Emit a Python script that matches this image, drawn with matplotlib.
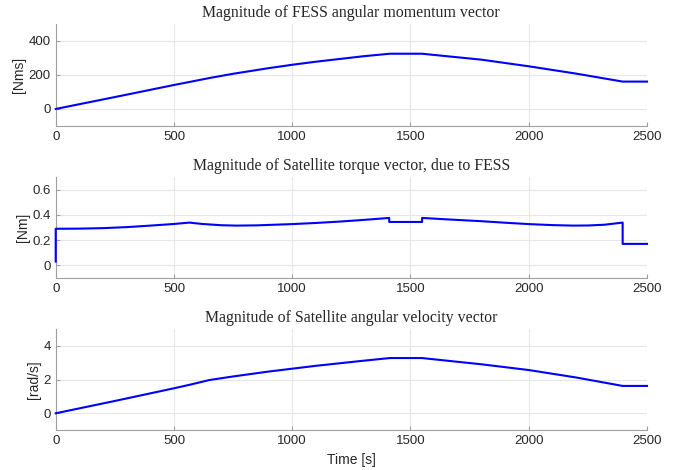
import matplotlib
matplotlib.use("Agg")
import matplotlib.pyplot as plt

# time breakpoints [s] and values
t_h = [0, 250, 500, 570, 650, 750, 900, 1000, 1100, 1200, 1300, 1413, 1548,
       1800, 2000, 2200, 2397, 2500]
h_mag = [0, 70, 141, 160, 182, 207, 240, 260, 278, 294, 310, 325, 325,
         290, 251, 208, 161, 161]

t_tau = [0, 0, 100, 200, 300, 400, 500, 565, 620, 700, 765, 850, 1000, 1100, 1200,
         1300, 1410, 1410, 1549, 1549, 1650, 1800, 1900, 2000, 2100, 2190, 2250,
         2320, 2397, 2397, 2500]
tau_mag = [0.03, 0.29, 0.291, 0.295, 0.303, 0.315, 0.328, 0.339, 0.328, 0.318, 0.315,
           0.317, 0.327, 0.336, 0.347, 0.36, 0.376, 0.344, 0.344, 0.376, 0.365, 0.35,
           0.338, 0.327, 0.319, 0.315, 0.316, 0.322, 0.339, 0.17, 0.17]

t_w = [0, 250, 500, 570, 650, 750, 900, 1000, 1100, 1200, 1300, 1413, 1548,
       1800, 2000, 2200, 2397, 2500]
w_mag = [0, 0.73, 1.48, 1.7, 1.97, 2.18, 2.47, 2.64, 2.81, 2.96, 3.11, 3.27, 3.27,
         2.9, 2.56, 2.12, 1.62, 1.62]

titles = ["Magnitude of FESS angular momentum vector",
          "Magnitude of Satellite torque vector, due to FESS",
          "Magnitude of Satellite angular velocity vector"]
ylabels = ["[Nms]", "[Nm]", "[rad/s]"]
ylims = [(-100, 500), (-0.1, 0.7), (-1, 5)]
yticks = [[0, 200, 400], [0, 0.2, 0.4, 0.6], [0, 2, 4]]
xticks = [0, 500, 1000, 1500, 2000, 2500]

fig = plt.figure(figsize=(6.82, 4.70), dpi=100)
left, width = 0.0817, 0.867
boxes = [(0.732, 0.217), (0.4087, 0.2145), (0.0847, 0.2157)]
data = [(t_h, h_mag), (t_tau, tau_mag), (t_w, w_mag)]

for i in range(3):
    ax = fig.add_axes([left, boxes[i][0], width, boxes[i][1]])
    ax.plot(data[i][0], data[i][1], color="#0000ff", lw=1.5, clip_on=False, zorder=5)
    ax.set_xlim(0, 2500)
    ax.set_ylim(*ylims[i])
    ax.set_xticks(xticks)
    ax.set_yticks(yticks[i])
    ax.set_xticklabels([str(x) for x in xticks], family="Liberation Sans")
    ax.set_yticklabels([f"{y:g}" for y in yticks[i]], family="Liberation Sans")
    ax.grid(True, color="#e6e6e6", lw=0.8)
    ax.set_axisbelow(True)
    for s in ["top", "right"]:
        ax.spines[s].set_visible(False)
    for s in ["left", "bottom"]:
        ax.spines[s].set_color("#a0a0a0")
    ax.tick_params(direction="in", length=3, colors="#a0a0a0", labelcolor="#262626",
                   labelsize=9.5)
    ax.set_title(titles[i], family="Liberation Serif", fontsize=11.4, color="#262626", pad=5)
    ax.set_ylabel(ylabels[i], family="Liberation Sans", fontsize=10, color="#262626", labelpad=2)

ax.set_xlabel("Time [s]", family="Liberation Sans", fontsize=10, color="#262626", labelpad=4)

plt.savefig("out.png", dpi=100)
